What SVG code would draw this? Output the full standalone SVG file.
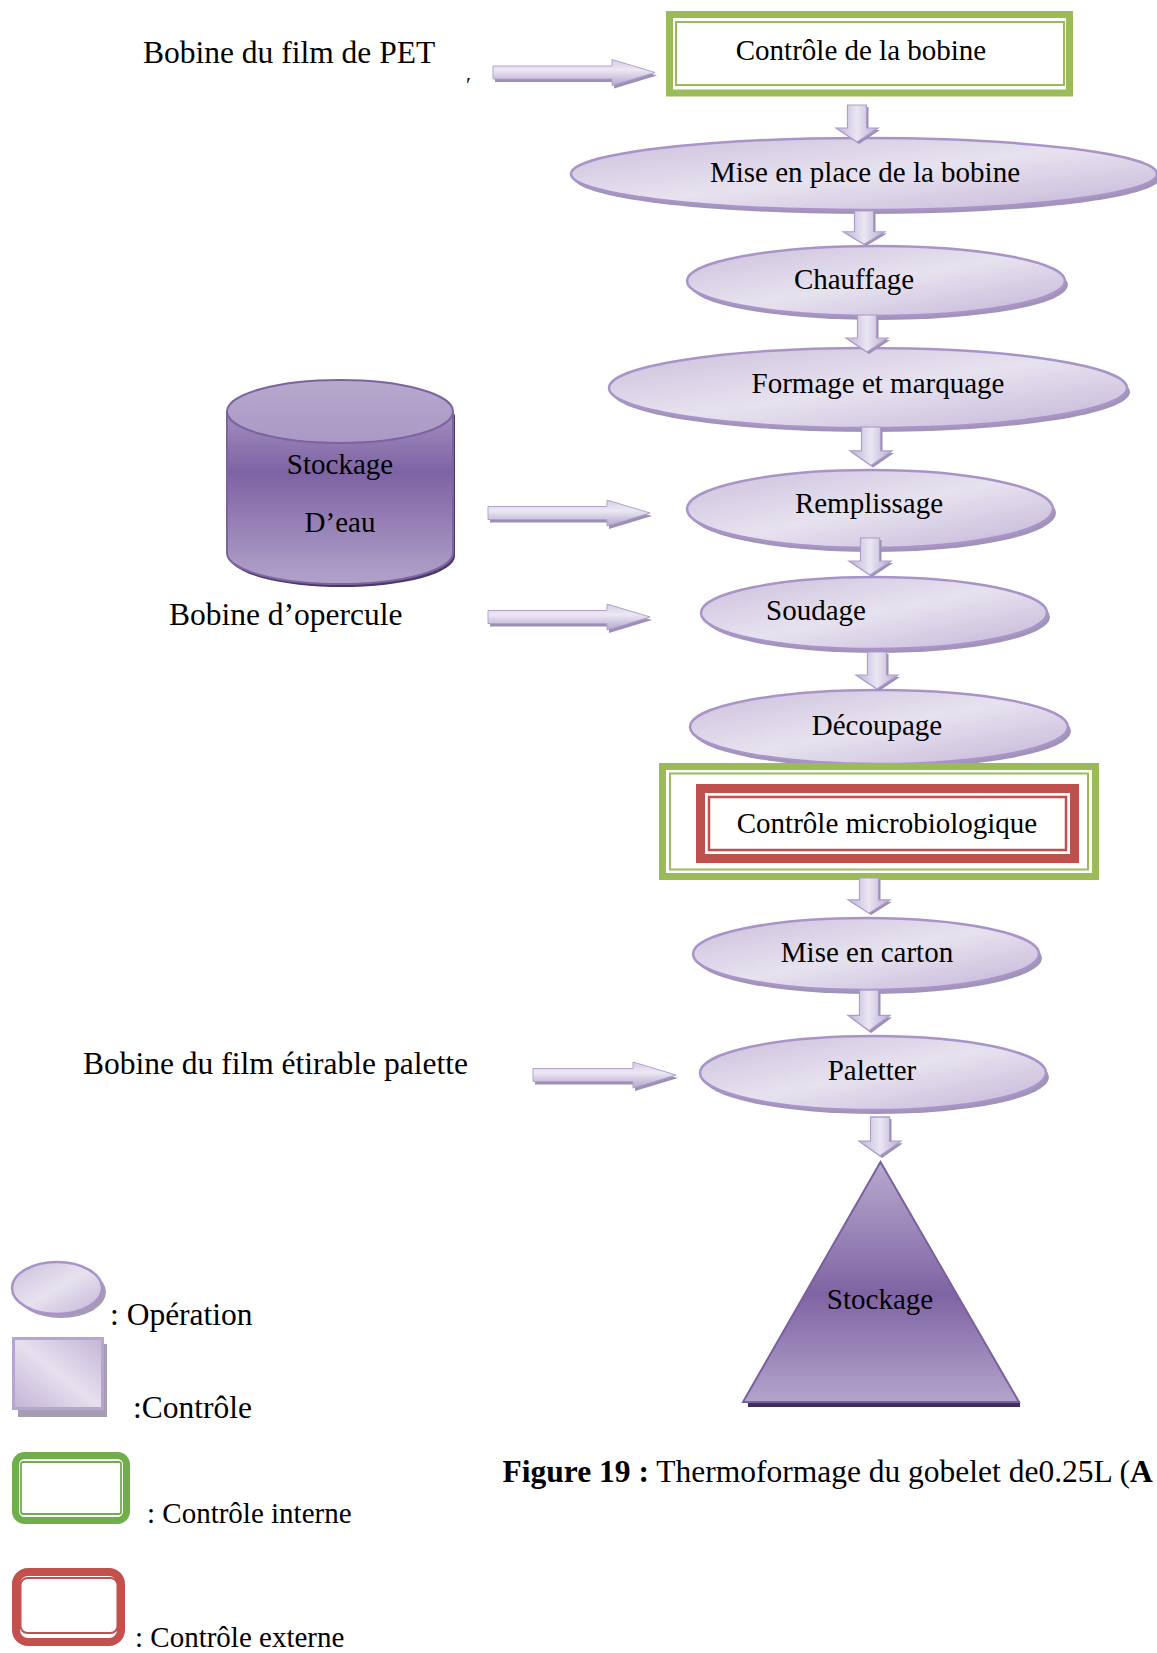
<svg xmlns="http://www.w3.org/2000/svg" xmlns:xlink="http://www.w3.org/1999/xlink" width="1157" height="1653" viewBox="0 0 1157 1653">
  <style>
    text { font-family: "Liberation Serif", "Times New Roman", serif; fill: #000; }
    .lbl { font-size: 29px; text-anchor: middle; }
    .side { font-size: 31.5px; }
    .leg { font-size: 31.5px; }
    .leg2 { font-size: 29px; }
    .op { fill: url(#opFill); stroke: #A994C9; stroke-width: 2.5; }
    .opShadow { fill: #A294B7; }
    .ctlIn { fill: #fff; stroke: #9BBB59; }
    .ctlOut { fill: #fff; stroke: #C0504D; }
    .legIn { fill: #fff; stroke: #6FAE4A; }
    .legOut { fill: #fff; stroke: #C4504D; }
    .arrR { fill: url(#arrowRight); stroke: #B2A2CC; stroke-width: 1; }
    .arrShadow { fill: #9D8FB5; }
  </style>
  <defs>
    <linearGradient id="opFill" x1="0" y1="0" x2="1" y2="1">
      <stop offset="0" stop-color="#CBBFDC"/>
      <stop offset="0.5" stop-color="#E7E2EF"/>
      <stop offset="1" stop-color="#C3B5D7"/>
    </linearGradient>
    <linearGradient id="arrowDownFill" x1="0" y1="0" x2="1" y2="0">
      <stop offset="0" stop-color="#BFB1D6"/>
      <stop offset="0.5" stop-color="#EAE6F2"/>
      <stop offset="1" stop-color="#B9ABD2"/>
    </linearGradient>
    <linearGradient id="arrowRight" x1="0" y1="0" x2="0" y2="1">
      <stop offset="0" stop-color="#D6CCE4"/>
      <stop offset="0.4" stop-color="#ECE8F3"/>
      <stop offset="1" stop-color="#B5A6CE"/>
    </linearGradient>
    <linearGradient id="drum" gradientUnits="userSpaceOnUse" x1="0" y1="380" x2="0" y2="586">
      <stop offset="0" stop-color="#B5A6CC"/>
      <stop offset="0.45" stop-color="#7E63A4"/>
      <stop offset="1" stop-color="#B3A4CB"/>
    </linearGradient>
    <linearGradient id="drumTop" x1="0" y1="0" x2="0" y2="1">
      <stop offset="0" stop-color="#B7A8CE"/>
      <stop offset="1" stop-color="#AA99C4"/>
    </linearGradient>
    <linearGradient id="pyramid" gradientUnits="userSpaceOnUse" x1="0" y1="1162" x2="0" y2="1402">
      <stop offset="0" stop-color="#B8A9CE"/>
      <stop offset="0.55" stop-color="#7F64A4"/>
      <stop offset="1" stop-color="#B3A4CB"/>
    </linearGradient>
    <linearGradient id="ctlFill" x1="0" y1="1" x2="1" y2="0">
      <stop offset="0" stop-color="#C2B3D6"/>
      <stop offset="0.5" stop-color="#E6E0EE"/>
      <stop offset="1" stop-color="#C4B5D8"/>
    </linearGradient>
    <!-- block arrow pointing down, origin at top centre -->
    <g id="dArrow">
      <path d="M-9.5,0 H9.5 V23 H21 L0,37 L-21,23 H-9.5 Z" transform="translate(2,2)" fill="#9C8EB4"/>
      <path d="M-9.5,0 H9.5 V23 H21 L0,37 L-21,23 H-9.5 Z" fill="url(#arrowDownFill)" stroke="#AE9ECB" stroke-width="1.2"/>
    </g>
  </defs>

  <rect width="1157" height="1653" fill="#fff"/>

  <!-- side inputs -->
  <g id="in-pet">
    <text class="side" x="143" y="63">Bobine du film de PET</text>
    <text x="466" y="92" font-size="22">′</text>
  </g>
  <g id="in-opercule">
    <text class="side" x="169" y="625">Bobine d’opercule</text>
  </g>
  <g id="in-palette">
    <text class="side" x="83" y="1074">Bobine du film étirable palette</text>
  </g>

  <!-- water storage drum -->
  <g id="stock-eau">
    <path d="M229,411.5 V553 A113,31 0 0 0 455,553 V411.5 Z" transform="translate(0,3)" fill="#4A3967"/>
    <path d="M227,411.5 V553 A113,31 0 0 0 453,553 V411.5 Z" fill="url(#drum)" stroke="#7C63A2" stroke-width="2"/>
    <ellipse cx="340" cy="411.5" rx="113" ry="31.5" fill="url(#drumTop)" stroke="#7C63A2" stroke-width="2"/>
    <text class="lbl" x="340" y="474">Stockage</text>
    <text class="lbl" x="340" y="532">D’eau</text>
  </g>

  <!-- process chain -->
  <g id="controle-bobine">
    <rect x="669.5" y="14.5" width="400" height="78.5" class="ctlIn" stroke-width="7"/>
    <rect x="676" y="22" width="388" height="63" class="ctlIn" stroke-width="2"/>
    <text class="lbl" x="861" y="60">Contrôle de la bobine</text>
  </g>

  <g id="mise-en-place">
    <ellipse cx="867" cy="178" rx="293" ry="36" class="opShadow"/>
    <ellipse cx="864" cy="174" rx="293" ry="36" class="op"/>
    <text class="lbl" x="865" y="182">Mise en place de la bobine</text>
  </g>

  <g id="chauffage">
    <ellipse cx="879" cy="285" rx="189" ry="35" class="opShadow"/>
    <ellipse cx="876" cy="281" rx="189" ry="35" class="op"/>
    <text class="lbl" x="854" y="289">Chauffage</text>
  </g>

  <g id="formage">
    <ellipse cx="871" cy="392" rx="259" ry="40" class="opShadow"/>
    <ellipse cx="868" cy="388" rx="259" ry="40" class="op"/>
    <text class="lbl" x="878" y="393">Formage et marquage</text>
  </g>

  <g id="remplissage">
    <ellipse cx="873" cy="513" rx="183" ry="39" class="opShadow"/>
    <ellipse cx="870" cy="509" rx="183" ry="39" class="op"/>
    <text class="lbl" x="869" y="513">Remplissage</text>
  </g>

  <g id="soudage">
    <ellipse cx="877" cy="617" rx="173" ry="36" class="opShadow"/>
    <ellipse cx="874" cy="613" rx="173" ry="36" class="op"/>
    <text class="lbl" x="816" y="620">Soudage</text>
  </g>

  <g id="decoupage">
    <ellipse cx="882" cy="731" rx="189" ry="37" class="opShadow"/>
    <ellipse cx="879" cy="727" rx="189" ry="37" class="op"/>
    <text class="lbl" x="877" y="735">Découpage</text>
  </g>

  <g id="controle-micro">
    <rect x="662.5" y="766.5" width="433" height="110" class="ctlIn" stroke-width="7"/>
    <rect x="670" y="773.5" width="418" height="96" class="ctlIn" stroke-width="2"/>
    <rect x="700.5" y="788.5" width="374" height="70" class="ctlOut" stroke-width="9"/>
    <rect x="709" y="797" width="357" height="53" class="ctlOut" stroke-width="2.5"/>
    <text class="lbl" x="887" y="833">Contrôle microbiologique</text>
  </g>

  <g id="mise-en-carton">
    <ellipse cx="869" cy="958" rx="173" ry="36" class="opShadow"/>
    <ellipse cx="866" cy="954" rx="173" ry="36" class="op"/>
    <text class="lbl" x="867" y="962">Mise en carton</text>
  </g>

  <g id="paletter">
    <ellipse cx="876" cy="1077" rx="173" ry="37" class="opShadow"/>
    <ellipse cx="873" cy="1073" rx="173" ry="37" class="op"/>
    <text class="lbl" x="872" y="1080">Paletter</text>
  </g>

  <g id="stockage">
    <rect x="748" y="1401" width="272" height="6" fill="#3E2E58"/>
    <polygon points="880.5,1162 1019,1402 743,1402" fill="url(#pyramid)" stroke="#7A60A0" stroke-width="2"/>
    <text class="lbl" x="880" y="1309">Stockage</text>
  </g>

  <!-- connectors -->
  <g id="connectors">
    <use xlink:href="#dArrow" transform="translate(857,105)"/>
    <use xlink:href="#dArrow" transform="translate(864,211) scale(1,0.9)"/>
    <use xlink:href="#dArrow" transform="translate(867,315)"/>
    <use xlink:href="#dArrow" transform="translate(871,427) scale(1,1.04)"/>
    <use xlink:href="#dArrow" transform="translate(870,538)"/>
    <use xlink:href="#dArrow" transform="translate(877,652)"/>
    <use xlink:href="#dArrow" transform="translate(869,878) scale(1,0.95)"/>
    <use xlink:href="#dArrow" transform="translate(869,990) scale(1,1.1)"/>
    <use xlink:href="#dArrow" transform="translate(880,1117) scale(1,1.05)"/>

    <!-- horizontal feed arrows -->
    <g transform="translate(493,72.5)">
      <path d="M0,-6.5 H119 V-13 L162,0 L119,13 V6.5 H0 Z" transform="translate(2,3)" class="arrShadow"/>
      <path d="M0,-6.5 H119 V-13 L162,0 L119,13 V6.5 H0 Z" class="arrR"/>
    </g>
    <g transform="translate(488,513)">
      <path d="M0,-6.5 H119 V-13 L162,0 L119,13 V6.5 H0 Z" transform="translate(2,3)" class="arrShadow"/>
      <path d="M0,-6.5 H119 V-13 L162,0 L119,13 V6.5 H0 Z" class="arrR"/>
    </g>
    <g transform="translate(488,617)">
      <path d="M0,-6.5 H119 V-13 L162,0 L119,13 V6.5 H0 Z" transform="translate(2,3)" class="arrShadow"/>
      <path d="M0,-6.5 H119 V-13 L162,0 L119,13 V6.5 H0 Z" class="arrR"/>
    </g>
    <g transform="translate(533,1075)">
      <path d="M0,-6.5 H100 V-13 L143,0 L100,13 V6.5 H0 Z" transform="translate(2,3)" class="arrShadow"/>
      <path d="M0,-6.5 H100 V-13 L143,0 L100,13 V6.5 H0 Z" class="arrR"/>
    </g>
  </g>

  <!-- caption -->
  <text id="caption" class="side" x="502.5" y="1482"><tspan font-weight="bold">Figure 19 :</tspan> Thermoformage du gobelet de0.25L (<tspan font-weight="bold">A</tspan></text>

  <!-- legend -->
  <g id="legend-operation">
    <ellipse cx="61" cy="1292" rx="45" ry="26" fill="#A59CB1"/>
    <ellipse cx="57" cy="1288" rx="45" ry="26" class="op"/>
    <text class="leg" x="110" y="1325">: Opération</text>
  </g>
  <g id="legend-controle">
    <rect x="18" y="1344" width="89" height="73" fill="#A59DB0"/>
    <rect x="13.5" y="1338.5" width="89" height="70" fill="url(#ctlFill)" stroke="#B6A5D1" stroke-width="3"/>
    <text class="leg" x="133" y="1418">:Contrôle</text>
  </g>
  <g id="legend-interne">
    <rect x="15.5" y="1455.5" width="111" height="65" rx="9" class="legIn" stroke-width="7"/>
    <rect x="21" y="1462" width="100" height="52" rx="2" class="legIn" stroke-width="1.8"/>
    <text class="leg2" x="147" y="1523">: Contrôle interne</text>
  </g>
  <g id="legend-externe">
    <rect x="16" y="1572" width="105" height="70" rx="12" class="legOut" stroke-width="8"/>
    <rect x="20.5" y="1578" width="97" height="55" rx="7" class="legOut" stroke-width="2"/>
    <text class="leg2" x="135" y="1647">: Contrôle externe</text>
  </g>
</svg>
